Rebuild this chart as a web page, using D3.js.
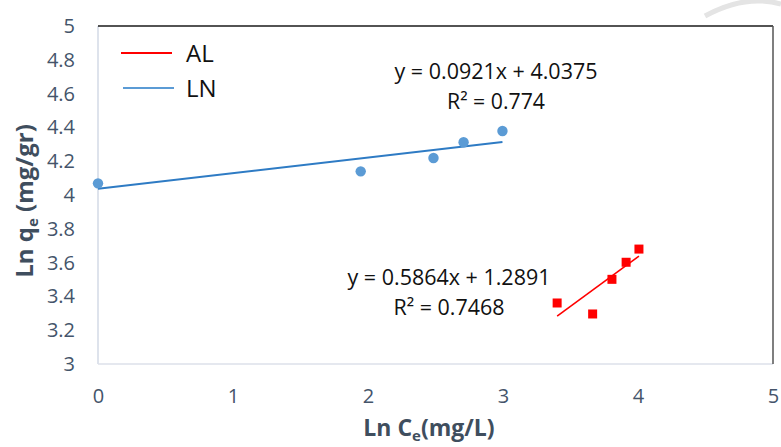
<!DOCTYPE html>
<html>
<head>
<meta charset="utf-8">
<script src="https://cdn.jsdelivr.net/npm/d3@7"></script>
<style>
  html, body { margin: 0; padding: 0; background: #ffffff; }
  svg { display: block; }
  text { font-family: "Open Sans", "Noto Sans", sans-serif; }
</style>
</head>
<body>
<svg id="chart" width="781" height="447"></svg>
<script>
// Freundlich isotherm (linearised): ln qe vs ln Ce
const lnCeLN = [0, 1.946, 2.485, 2.708, 2.996];
const lnQeLN = [4.069, 4.140, 4.219, 4.312, 4.379];
const lnCeAL = [3.401, 3.664, 3.807, 3.912, 4.007];
const lnQeAL = [3.361, 3.296, 3.501, 3.602, 3.680];

// Linear trendline fits
const fitLN = [0.0921, 4.0375, 0.774];   // slope, intercept, R²
const fitAL = [0.5864, 1.2891, 0.7468];

const xTicks = [0, 1, 2, 3, 4, 5];
const yTicks = [3, 3.2, 3.4, 3.6, 3.8, 4, 4.2, 4.4, 4.6, 4.8, 5];
const seriesNames = ["AL", "LN"];

const blue = "#5B9BD5", blueLine = "#2E7BC4", red = "#FF0000";
const tickColor = "#44546A", titleColor = "#3F4E5E";

const svg = d3.select("#chart");
const pLeft = 98, pRight = 773, pTop = 26, pBottom = 364;

const x = d3.scaleLinear().domain([0, 5]).range([pLeft, pRight]);
const y = d3.scaleLinear().domain([3, 5]).range([pBottom, pTop]);

// faint background arc in the corner
svg.append("path")
  .attr("d", "M705,16 Q745,-6 781,4")
  .attr("fill", "none").attr("stroke", "#e4e4e4").attr("stroke-width", 5);

// plot frame
svg.append("line").attr("x1", pLeft).attr("x2", pLeft).attr("y1", pTop).attr("y2", pBottom)
  .attr("stroke", "#D3DAE6").attr("stroke-width", 1.5);
svg.append("line").attr("x1", pLeft).attr("x2", pRight).attr("y1", pBottom).attr("y2", pBottom)
  .attr("stroke", "#DCE1EA").attr("stroke-width", 1.5);
svg.append("line").attr("x1", pLeft).attr("x2", pRight).attr("y1", pTop).attr("y2", pTop)
  .attr("stroke", "#1a1a1a").attr("stroke-width", 1.5);
svg.append("line").attr("x1", pRight).attr("x2", pRight).attr("y1", pTop).attr("y2", pBottom)
  .attr("stroke", "#555555").attr("stroke-width", 1.5);

// axes
const yAxis = svg.append("g").attr("transform", `translate(${pLeft},0)`)
  .call(d3.axisLeft(y).tickValues(yTicks).tickSize(0).tickPadding(23)
    .tickFormat(d3.format(".1~f")));
const xAxis = svg.append("g").attr("transform", `translate(0,${pBottom})`)
  .call(d3.axisBottom(x).tickValues(xTicks).tickSize(0).tickPadding(25)
    .tickFormat(d3.format("d")));
[yAxis, xAxis].forEach(g => {
  g.select(".domain").remove();
  g.selectAll("text").attr("font-size", 20).attr("fill", tickColor)
    .attr("font-family", "'Open Sans', sans-serif");
});

// axis titles
const xt = svg.append("text").attr("x", 429).attr("y", 436)
  .attr("text-anchor", "middle").attr("font-size", 23).attr("font-weight", "bold")
  .attr("fill", titleColor);
xt.append("tspan").text("Ln C");
xt.append("tspan").attr("font-size", 15).attr("dy", 5).text("e");
xt.append("tspan").attr("dy", -5).text("(mg/L)");

const yt = svg.append("text").attr("transform", "translate(33,201) rotate(-90)")
  .attr("text-anchor", "middle").attr("font-size", 24).attr("font-weight", "bold")
  .attr("fill", titleColor);
yt.append("tspan").text("Ln q");
yt.append("tspan").attr("font-size", 15).attr("dy", 5).text("e");
yt.append("tspan").attr("dy", -5).text(" (mg/gr)");

// trendlines
const line = d3.line().x(d => x(d[0])).y(d => y(d[1]));
function trend(xs, fit) {
  const ext = d3.extent(xs);
  return ext.map(v => [v, fit[0] * v + fit[1]]);
}
svg.append("path").datum(trend(lnCeLN, fitLN)).attr("d", line)
  .attr("fill", "none").attr("stroke", blueLine).attr("stroke-width", 2);
svg.append("path").datum(trend(lnCeAL, fitAL)).attr("d", line)
  .attr("fill", "none").attr("stroke", red).attr("stroke-width", 1.6);

// markers
svg.append("g").selectAll("circle").data(d3.zip(lnCeLN, lnQeLN)).join("circle")
  .attr("cx", d => x(d[0])).attr("cy", d => y(d[1])).attr("r", 5.2).attr("fill", blue);
const sq = 9;
svg.append("g").selectAll("rect").data(d3.zip(lnCeAL, lnQeAL)).join("rect")
  .attr("x", d => x(d[0]) - sq / 2).attr("y", d => y(d[1]) - sq / 2)
  .attr("width", sq).attr("height", sq).attr("fill", red);

// trendline equations
function eqLabel(fit, cx, by, w1, w2) {
  svg.append("text").attr("x", cx).attr("y", by).attr("text-anchor", "middle")
    .attr("font-size", 21).attr("fill", "#111")
    .attr("textLength", w1).attr("lengthAdjust", "spacingAndGlyphs")
    .text(`y = ${fit[0]}x + ${fit[1]}`);
  svg.append("text").attr("x", cx).attr("y", by + 30).attr("text-anchor", "middle")
    .attr("font-size", 21).attr("fill", "#111")
    .attr("textLength", w2).attr("lengthAdjust", "spacingAndGlyphs")
    .text(`R² = ${fit[2]}`);
}
eqLabel(fitLN, 496, 79, 203, 98);
eqLabel(fitAL, 449, 285, 203, 111);

// legend
const legend = svg.append("g");
[[red, 53, 121], [blue, 88, 123]].forEach(([c, ly, lx], i) => {
  legend.append("line").attr("x1", lx).attr("x2", lx + 51).attr("y1", ly).attr("y2", ly)
    .attr("stroke", c).attr("stroke-width", 2);
  legend.append("text").attr("x", 186).attr("y", ly + 9).attr("font-size", 24)
    .attr("fill", "#111").text(seriesNames[i]);
});
</script>
</body>
</html>
